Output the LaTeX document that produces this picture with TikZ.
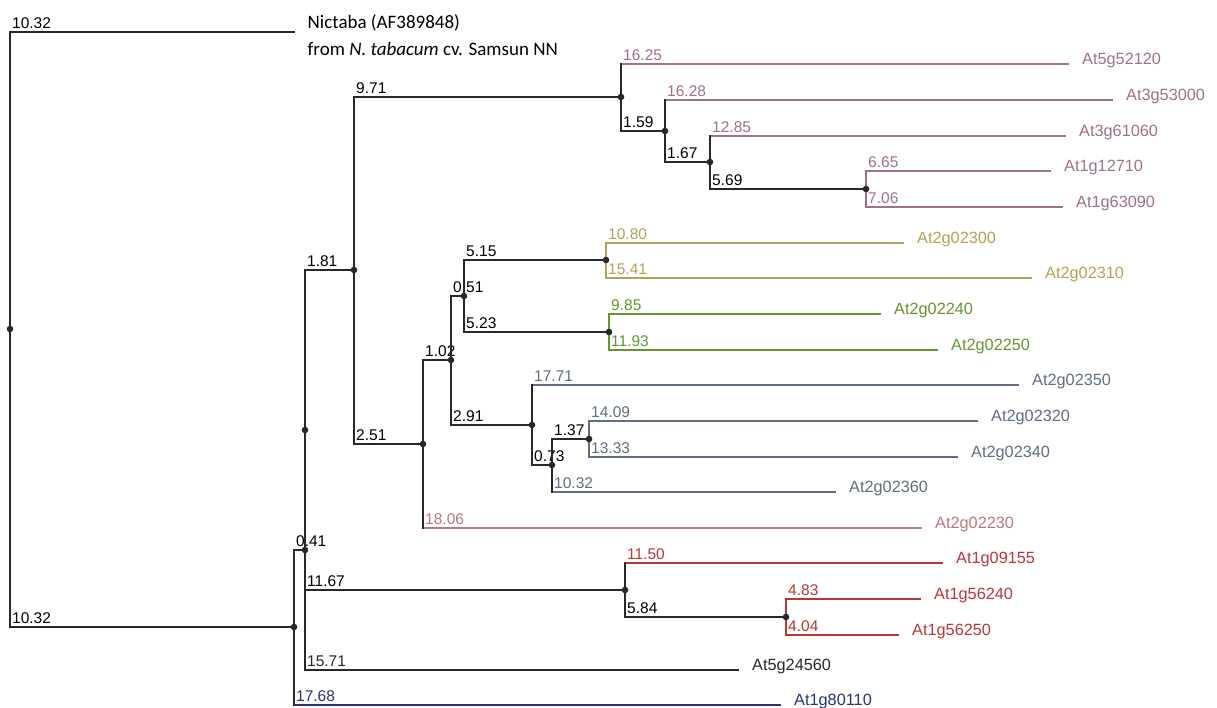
\documentclass[tikz,border=0pt]{standalone}
\usepackage{fontspec}
\setmainfont{Liberation Sans}
\newfontfamily\nicfont{Carlito}
\usetikzlibrary{positioning}
\definecolor{branch}{RGB}{40,40,40}
\definecolor{mauve}{RGB}{160,112,140}
\definecolor{gold}{RGB}{178,162,88}
\definecolor{leafgreen}{RGB}{100,150,45}
\definecolor{slate}{RGB}{95,110,128}
\definecolor{rose}{RGB}{182,122,126}
\definecolor{clred}{RGB}{185,55,55}
\definecolor{clnavy}{RGB}{40,50,120}

\begin{document}
\begin{tikzpicture}[x=1pt, y=-1pt,
  every node/.style={inner sep=0pt, font=\fontsize{15.5}{18}\selectfont},
  br/.style={line width=1.8pt, line cap=rect, draw=branch},
  len/.style={anchor=base west},
  leaf/.style={anchor=base west, font=\fontsize{16.3}{19}\selectfont}]
  \useasboundingbox (0,0) rectangle (1217,707);

  % internal nodes of the tree
  \coordinate (root) at (10,329);
  \coordinate (n1032) at (294,627);
  \coordinate (n041) at (305,550);
  \coordinate (n000) at (305,430);
  \coordinate (n181) at (354,270);
  \coordinate (n971) at (621,97);
  \coordinate (n159) at (665,131);
  \coordinate (n167) at (710,162);
  \coordinate (n569) at (866,189);
  \coordinate (n251) at (423,444);
  \coordinate (n102) at (451,360);
  \coordinate (n051) at (464,296);
  \coordinate (n515) at (606,260);
  \coordinate (n523) at (609,332);
  \coordinate (n291) at (532,425);
  \coordinate (n073) at (552,465);
  \coordinate (n137) at (589,439);
  \coordinate (n1167) at (625,590);
  \coordinate (n584) at (786,617);

  % outgroup
  \coordinate (eNic) at (294,32);
  \draw[br] (root |- eNic) -- (eNic);
  \node[len] at ([xshift=2pt, yshift=4pt]root |- eNic) {10.32};
  \node[anchor=base west, font=\nicfont\fontsize{19}{23}\selectfont] (nic1) at ([xshift=13.5pt, yshift=3.5pt]eNic) {Nictaba (AF389848)};
  \node[anchor=base west, font=\nicfont\fontsize{19}{23}\selectfont] (nic2) at ([yshift=-26.5pt]nic1.base west) {from \textit{N. tabacum} cv. Samsun NN};

  % leaves: name/x/y/colour/parent/length
  \foreach \g/\x/\y/\c/\p/\l in {
    5g52120/1068/64/mauve/n971/16.25, 3g53000/1112/100/mauve/n159/16.28,
    3g61060/1065/136/mauve/n167/12.85, 1g12710/1050/171/mauve/n569/6.65,
    1g63090/1062/207/mauve/n569/7.06, 2g02300/903/243/gold/n515/10.80,
    2g02310/1031/278/gold/n515/15.41, 2g02240/880/314/leafgreen/n523/9.85,
    2g02250/937/350/leafgreen/n523/11.93, 2g02350/1018/385/slate/n291/17.71,
    2g02320/977/421/slate/n137/14.09, 2g02340/957/457/slate/n137/13.33,
    2g02360/835/492/slate/n073/10.32, 2g02230/921/528/rose/n251/18.06,
    1g09155/942/563/clred/n1167/11.50, 1g56240/920/599/clred/n584/4.83,
    1g56250/898/635/clred/n584/4.04, 5g24560/738/670/branch/n041/15.71,
    1g80110/780/705/clnavy/n1032/17.68}
  {
    \coordinate (e\g) at (\x,\y);
    \draw[br, draw=\c] (\p |- e\g) -- (e\g);
    \node[len, text=\c] at ([xshift=2pt, yshift=3.5pt]\p |- e\g) {\l};
    \node[leaf, text=\c] (t\g) at ([xshift=14pt]e\g) {At\g};
  }

  % inner branches: parent/child/length
  \foreach \p/\k/\l in {root/n1032/10.32, n1032/n041/0.41, n000/n181/1.81,
    n000/n1167/11.67, n181/n971/9.71, n181/n251/2.51, n971/n159/1.59,
    n159/n167/1.67, n167/n569/5.69, n251/n102/1.02, n102/n051/0.51,
    n102/n291/2.91, n051/n515/5.15, n051/n523/5.23, n291/n073/0.73,
    n073/n137/1.37, n1167/n584/5.84}
  {
    \draw[br] (\p |- \k) -- (\k);
    \node[len] at ([xshift=2pt, yshift=3.5pt]\p |- \k) {\l};
  }

  % vertical joins: node/top/bottom/colour
  \foreach \n/\a/\b/\c in {root/eNic/n1032/branch, n1032/n041/e1g80110/branch,
    n041/n000/e5g24560/branch, n000/n181/n1167/branch, n181/n971/n251/branch,
    n971/e5g52120/n159/branch, n159/e3g53000/n167/branch,
    n167/e3g61060/n569/branch, n569/e1g12710/e1g63090/mauve,
    n251/n102/e2g02230/branch, n102/n051/n291/branch, n051/n515/n523/branch,
    n515/e2g02300/e2g02310/gold, n523/e2g02240/e2g02250/leafgreen,
    n291/e2g02350/n073/branch, n073/n137/e2g02360/branch,
    n137/e2g02320/e2g02340/slate, n1167/e1g09155/n584/branch,
    n584/e1g56240/e1g56250/clred}
    \draw[br, draw=\c] (\n |- \a) -- (\n |- \b);

  \foreach \n in {root, n1032, n041, n000, n181, n971, n159, n167, n569, n251,
    n102, n051, n515, n523, n291, n073, n137, n1167, n584}
    \fill[branch] (\n) circle (3.3pt);
\end{tikzpicture}
\end{document}
